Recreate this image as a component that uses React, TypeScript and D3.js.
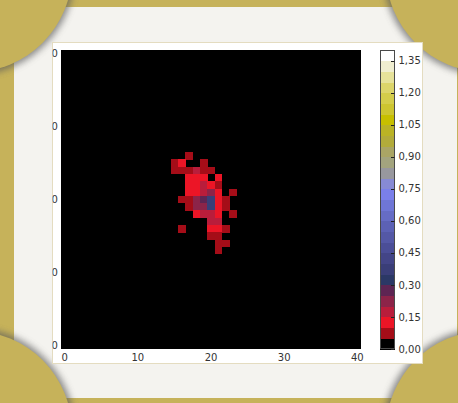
import React, { useEffect } from 'react';
import * as d3 from 'd3';

// sparse heat map: one entry per non-empty image row
const rowIndex = [14, 15, 16, 17, 18, 19, 20, 21, 22, 23, 24, 25, 26, 27];
const rowStart = [17, 15, 15, 17, 17, 17, 16, 17, 18, 20, 16, 20, 21, 21];
const rowValues = [
  [0.07],
  [0.07, 0.12, 0, 0, 0.07],
  [0.07, 0.07, 0.07, 0.17, 0.07, 0.07],
  [0.12, 0.12, 0.12, 0, 0.12],
  [0.12, 0.12, 0.17, 0.12, 0.07],
  [0.12, 0.12, 0.17, 0.22, 0.12, 0, 0.07],
  [0.07, 0.07, 0.22, 0.27, 0.37, 0.12, 0.07],
  [0.07, 0.22, 0.22, 0.37, 0.12, 0.07],
  [0.12, 0.17, 0.17, 0.12, 0, 0.07],
  [0.17, 0.17],
  [0.07, 0, 0, 0, 0.12, 0.12, 0.07],
  [0.07, 0.07],
  [0.07, 0.07],
  [0.07],
];

const gridSize = 41;
const axisTicks = [0, 10, 20, 30, 40];
const colorbarTicks = [0, 0.15, 0.3, 0.45, 0.6, 0.75, 0.9, 1.05, 1.2, 1.35];
const levelStep = 0.05;
const levelMax = 1.4;
const levelColors = [
  '#000000', '#a50d18', '#ec1526', '#b91d3b', '#8c2449', '#5e2553', '#2b3866',
  '#3a3e78', '#434587', '#4b4e97', '#5458a6', '#5c61b5', '#666cc5', '#6f76d6',
  '#7a7fea', '#878ad4', '#98989e', '#a3a47e', '#aaa565', '#b2ab3a', '#bab325',
  '#c7bf00', '#cdc530', '#d4cd4a', '#dcd56a', '#e6e29a', '#f0eed0', '#ffffff',
];

const W = 458;
const H = 403;
const olive = '#c6b25a';

export default function App() {
  useEffect(() => {
    document.body.style.margin = '0';
  }, []);

  const x = d3.scaleLinear().domain([-0.5, gridSize - 0.5]).range([61, 361]);
  const y = d3.scaleLinear().domain([-0.5, gridSize - 0.5]).range([50, 349]);
  const thresholds = d3.range(1, levelColors.length).map(i => +(i * levelStep).toFixed(2));
  const color = d3.scaleThreshold<number, string>().domain(thresholds).range(levelColors);
  const cb = d3.scaleLinear().domain([0, levelMax]).range([349, 50]);

  const cells = rowIndex.flatMap((r, i) =>
    rowValues[i].map((v, j) => ({ r, c: rowStart[i] + j, v })).filter(d => d.v > 0)
  );
  const fmt = (v: number) => d3.format('.2f')(v).replace('.', ',');
  const cw = x(1) - x(0);
  const ch = y(1) - y(0);

  // frame corner cut-outs
  const corners = [
    [-28, -28], [W + 28, -28], [-28, H + 28], [W + 28, H + 28],
  ];

  return (
    <svg width={W} height={H} style={{ position: 'absolute', left: 0, top: 0, display: 'block' }}
      fontFamily="DejaVu Sans" fontSize={10}>
      <defs>
        <filter id="soft" filterUnits="userSpaceOnUse" x={-20} y={-20} width={W + 40} height={H + 40}>
          <feGaussianBlur stdDeviation="3.5" />
        </filter>
        <clipPath id="ylab">
          <rect x={52.5} y={40} width={20} height={330} />
        </clipPath>
      </defs>

      {/* backdrop and mat */}
      <rect x={0} y={0} width={W} height={H} fill={olive} />
      <rect x={14} y={7} width={443} height={391} fill="#f4f3ef" />
      <g filter="url(#soft)" opacity={0.7}>
        {corners.map(([cx, cy], i) => (
          <circle key={'s' + i} cx={cx} cy={cy} r={103} fill="#5a5a5a" />
        ))}
      </g>
      {corners.map(([cx, cy], i) => (
        <circle key={i} cx={cx} cy={cy} r={100} fill={olive} />
      ))}

      {/* figure panel */}
      <rect x={52.5} y={42.5} width={370} height={321} fill="#ffffff" stroke="#e4dcc0" />

      {/* heat map */}
      <rect x={x(-0.5)} y={y(-0.5)} width={x(gridSize - 0.5) - x(-0.5)}
        height={y(gridSize - 0.5) - y(-0.5)} fill={color(0)} />
      <g shapeRendering="crispEdges">
        {cells.map((d, i) => (
          <rect key={i} x={x(d.c - 0.5)} y={y(d.r - 0.5)} width={cw + 0.3} height={ch + 0.3}
            fill={color(d.v)} />
        ))}
      </g>

      {/* axes labels */}
      <g fill="#333">
        {axisTicks.map(t => (
          <text key={'x' + t} x={x(t)} y={361} textAnchor="middle">{t}</text>
        ))}
      </g>
      <g fill="#333" clipPath="url(#ylab)">
        {axisTicks.map(t => (
          <text key={'y' + t} x={57.8} y={y(t) + 3.6} textAnchor="end">{t}</text>
        ))}
      </g>

      {/* colorbar */}
      <g shapeRendering="crispEdges">
        {levelColors.map((c, i) => (
          <rect key={i} x={380} y={cb((i + 1) * levelStep)} width={15}
            height={cb(i * levelStep) - cb((i + 1) * levelStep) + 0.5} fill={c} />
        ))}
      </g>
      <rect x={380.5} y={50.5} width={14} height={298} fill="none" stroke="#4a4a4a" />
      {colorbarTicks.map(t => (
        <g key={t}>
          <line x1={391} x2={394.5} y1={Math.round(cb(t)) + 0.5} y2={Math.round(cb(t)) + 0.5}
            stroke="#222" />
          <text x={398.5} y={cb(t) + 3.6} fill="#333">{fmt(t)}</text>
        </g>
      ))}
    </svg>
  );
}
